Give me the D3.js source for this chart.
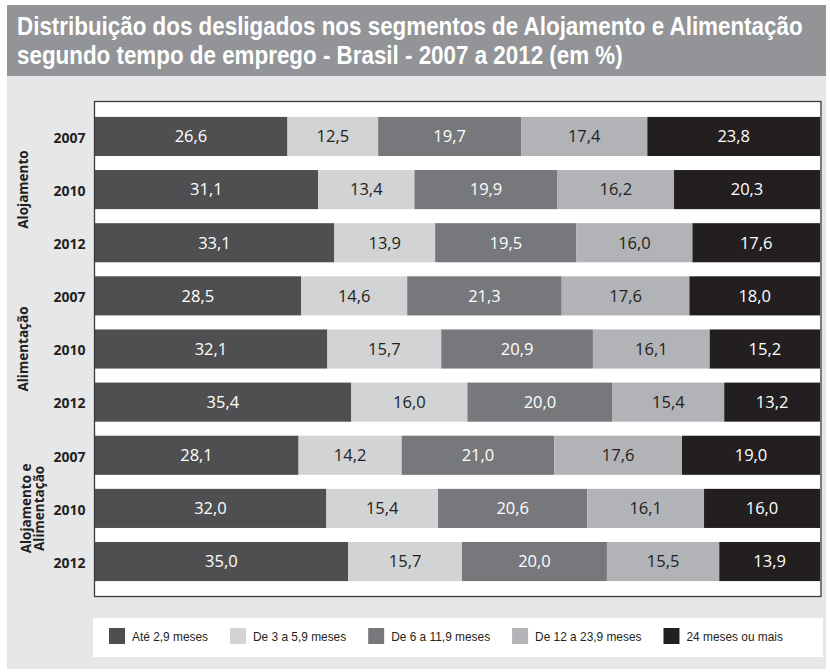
<!DOCTYPE html>
<html>
<head>
<meta charset="utf-8">
<script src="https://cdn.jsdelivr.net/npm/d3@7"></script>
<style>
  html, body { margin: 0; padding: 0; background: #ffffff; }
  svg { display: block; }
</style>
</head>
<body>
<svg id="chart" width="830" height="672"></svg>
<script>
// ---- Data ----
const titleLines = [
  "Distribuição dos desligados nos segmentos de Alojamento e Alimentação",
  "segundo tempo de emprego - Brasil - 2007 a 2012 (em %)"
];
const groups = ["Alojamento", "Alimentação", "Alojamento e Alimentação"];
const years = ["2007", "2010", "2012"];
const categories = ["Até 2,9 meses", "De 3 a 5,9 meses", "De 6 a 11,9 meses", "De 12 a 23,9 meses", "24 meses ou mais"];
const ate2_9 =    [26.6, 31.1, 33.1, 28.5, 32.1, 35.4, 28.1, 32.0, 35.0];
const de3a5_9 =   [12.5, 13.4, 13.9, 14.6, 15.7, 16.0, 14.2, 15.4, 15.7];
const de6a11_9 =  [19.7, 19.9, 19.5, 21.3, 20.9, 20.0, 21.0, 20.6, 20.0];
const de12a23_9 = [17.4, 16.2, 16.0, 17.6, 16.1, 15.4, 17.6, 16.1, 15.5];
const mais24 =    [23.8, 20.3, 17.6, 18.0, 15.2, 13.2, 19.0, 16.0, 13.9];

const seriesValues = [ate2_9, de3a5_9, de6a11_9, de12a23_9, mais24];
const colors = ["#4f4f51", "#d1d3d4", "#77787b", "#b1b3b6", "#231f20"];
const labelColors = ["#ffffff", "#231f20", "#ffffff", "#231f20", "#ffffff"];

// rows
const rows = [];
groups.forEach((g, gi) => years.forEach((y, yi) => {
  const i = gi * years.length + yi;
  const r = { id: g + "|" + y, group: g, year: y };
  categories.forEach((c, ci) => r[c] = seriesValues[ci][i]);
  rows.push(r);
}));

const svg = d3.select("#chart");

// background panel
svg.append("rect").attr("x", 7).attr("y", 5).attr("width", 819).attr("height", 664).attr("fill", "#e6e7e8");
// title band
svg.append("rect").attr("x", 7).attr("y", 5).attr("width", 819).attr("height", 71).attr("fill", "#929497");

const titleFont = "'Liberation Sans', Arial, sans-serif";
const tg1 = svg.append("g").attr("transform", "translate(17,35)");
const t1 = tg1.append("text").attr("x", 0).attr("y", 0)
  .attr("fill", "#ffffff").attr("font-family", titleFont).attr("font-weight", 700)
  .attr("font-size", 25.5).text(titleLines[0]);
const w1 = t1.node().getComputedTextLength();
const ratio = 786 / w1;
tg1.attr("transform", `translate(17,35) scale(${ratio},1)`);
const tg2 = svg.append("g").attr("transform", `translate(17,64) scale(${ratio},1)`);
tg2.append("text").attr("x", 0).attr("y", 0)
  .attr("fill", "#ffffff").attr("font-family", titleFont).attr("font-weight", 700)
  .attr("font-size", 25.5).text(titleLines[1]);

// plot frame
const plot = { left: 94.5, right: 821, top: 101.5, bottom: 596.5 };
svg.append("rect")
  .attr("x", plot.left).attr("y", plot.top)
  .attr("width", plot.right - plot.left).attr("height", plot.bottom - plot.top)
  .attr("fill", "#ffffff");

const y = d3.scaleBand()
  .domain(rows.map(d => d.id))
  .range([plot.top, plot.bottom])
  .paddingInner(0.264)
  .paddingOuter(0.29);

const x = d3.scaleLinear().domain([0, 1]).range([plot.left, 820]);
const color = d3.scaleOrdinal().domain(categories).range(colors);
const lcolor = d3.scaleOrdinal().domain(categories).range(labelColors);

const stack = d3.stack().keys(categories).offset(d3.stackOffsetExpand);
const series = stack(rows);

const layer = svg.append("g").selectAll("g").data(series).join("g")
  .attr("fill", d => color(d.key));
layer.selectAll("rect").data(d => d).join("rect")
  .attr("x", d => x(d[0]))
  .attr("y", d => y(d.data.id))
  .attr("width", d => x(d[1]) - x(d[0]))
  .attr("height", y.bandwidth());

const valueFont = "'Open Sans', 'Liberation Sans', sans-serif";
const labels = svg.append("g").selectAll("g").data(series).join("g")
  .attr("fill", d => lcolor(d.key));
labels.selectAll("text").data(d => d.map(v => ({ v, key: d.key }))).join("text")
  .attr("x", d => (x(d.v[0]) + x(d.v[1])) / 2)
  .attr("y", d => y(d.v.data.id) + y.bandwidth() / 2)
  .attr("dy", "0.35em")
  .attr("text-anchor", "middle")
  .attr("font-family", valueFont)
  .attr("font-size", 16.5)
  .text(d => d3.format(".1f")(d.v.data[d.key]).replace(".", ","));

// frame border on top
svg.append("rect")
  .attr("x", plot.left).attr("y", plot.top)
  .attr("width", plot.right - plot.left).attr("height", plot.bottom - plot.top)
  .attr("fill", "none").attr("stroke", "#3a3a3c").attr("stroke-width", 1.3);

// year axis
const labFont = "'Open Sans', 'Liberation Sans', sans-serif";
const yAxis = d3.axisLeft(y).tickSize(0).tickPadding(9).tickFormat(id => id.split("|")[1]);
const ax = svg.append("g").attr("transform", `translate(${plot.left},0)`).call(yAxis);
ax.select(".domain").remove();
ax.selectAll("text").attr("font-family", labFont).attr("font-weight", 700)
  .attr("font-size", 14).attr("dy", "0.45em").attr("fill", "#231f20");

// group labels
groups.forEach((g, gi) => {
  const mid = rows[gi * years.length + 1].id;
  const cy = y(mid) + y.bandwidth() / 2;
  const words = g === "Alojamento e Alimentação" ? ["Alojamento e", "Alimentação"] : [g];
  const lines = words.length;
  words.forEach((w, wi) => {
    const bx = lines === 1 ? 28 : 31 + wi * 13;
    svg.append("text")
      .attr("transform", `translate(${bx},${cy}) rotate(-90)`)
      .attr("text-anchor", "middle")
      .attr("font-family", labFont).attr("font-weight", 700)
      .attr("font-size", 13.5).attr("fill", "#231f20")
      .text(w);
  });
});

// legend
svg.append("rect").attr("x", 93).attr("y", 618).attr("width", 730).attr("height", 39).attr("fill", "#ffffff");
const legFont = "'Liberation Sans', Arial, sans-serif";
// measure first label to derive the condensing factor of the legend face
const probe = svg.append("text").attr("font-family", legFont).attr("font-size", 13.5).text(categories[0]);
const legRatio = 76 / probe.node().getComputedTextLength();
probe.remove();
let lx = 109;
categories.forEach((c, ci) => {
  svg.append("rect").attr("x", lx).attr("y", 628).attr("width", 16).attr("height", 16).attr("fill", color(c));
  const g = svg.append("g").attr("transform", `translate(${lx + 23},641) scale(${legRatio},1)`);
  const t = g.append("text").attr("x", 0).attr("y", 0)
    .attr("font-family", legFont).attr("font-size", 13.5).attr("fill", "#231f20").text(c);
  lx = lx + 23 + t.node().getComputedTextLength() * legRatio + 22;
});
</script>
</body>
</html>
